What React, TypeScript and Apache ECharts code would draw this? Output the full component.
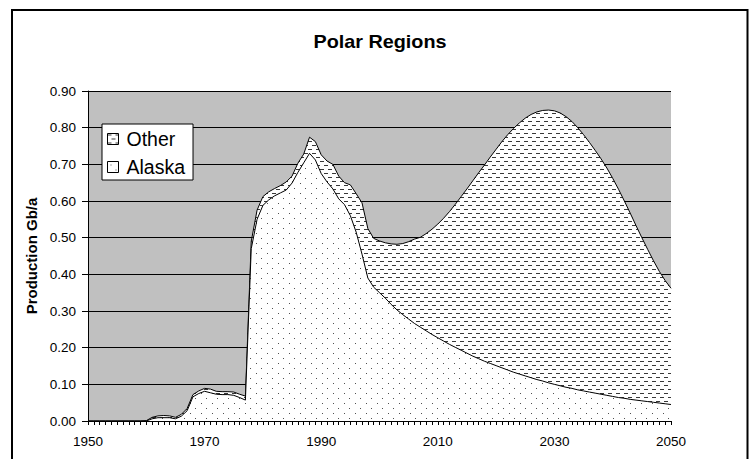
import React, { useEffect, useRef } from 'react';
import * as echarts from 'echarts';

const years = [
  '1950','1951','1952','1953','1954','1955','1956','1957','1958','1959',
  '1960','1961','1962','1963','1964','1965','1966','1967','1968','1969',
  '1970','1971','1972','1973','1974','1975','1976','1977','1978','1979',
  '1980','1981','1982','1983','1984','1985','1986','1987','1988','1989',
  '1990','1991','1992','1993','1994','1995','1996','1997','1998','1999',
  '2000','2001','2002','2003','2004','2005','2006','2007','2008','2009',
  '2010','2011','2012','2013','2014','2015','2016','2017','2018','2019',
  '2020','2021','2022','2023','2024','2025','2026','2027','2028','2029',
  '2030','2031','2032','2033','2034','2035','2036','2037','2038','2039',
  '2040','2041','2042','2043','2044','2045','2046','2047','2048','2049',
  '2050',
];

const xTickLabels = ['1950', '1970', '1990', '2010', '2030', '2050'];

const alaskaValues = [
  0, 0, 0, 0, 0, 0, 0, 0, 0, 0,
  0, 0.006, 0.009, 0.009, 0.009, 0.006, 0.013, 0.028, 0.066, 0.075,
  0.081, 0.077, 0.073, 0.072, 0.072, 0.070, 0.064, 0.057, 0.470, 0.550,
  0.588, 0.603, 0.614, 0.622, 0.630, 0.649, 0.678, 0.704, 0.730, 0.712,
  0.675, 0.652, 0.633, 0.606, 0.590, 0.560, 0.515, 0.455, 0.390, 0.365,
  0.350, 0.335, 0.318, 0.303, 0.290, 0.278, 0.266, 0.256, 0.246, 0.236,
  0.227, 0.218, 0.209, 0.201, 0.193, 0.185, 0.177, 0.170, 0.163, 0.157,
  0.151, 0.145, 0.139, 0.133, 0.128, 0.123, 0.118, 0.113, 0.109, 0.104,
  0.100, 0.096, 0.092, 0.089, 0.085, 0.082, 0.079, 0.076, 0.073, 0.070,
  0.067, 0.064, 0.062, 0.059, 0.057, 0.055, 0.053, 0.051, 0.049, 0.047,
  0.045,
];

const otherValues = [
  0, 0, 0, 0, 0, 0, 0, 0, 0, 0,
  0.001, 0.004, 0.005, 0.006, 0.005, 0.004, 0.005, 0.006, 0.006, 0.007,
  0.008, 0.010, 0.008, 0.008, 0.008, 0.009, 0.009, 0.011, 0.020, 0.025,
  0.024, 0.022, 0.020, 0.020, 0.022, 0.019, 0.025, 0.024, 0.044, 0.050,
  0.051, 0.057, 0.067, 0.062, 0.060, 0.084, 0.105, 0.140, 0.135, 0.133,
  0.141, 0.151, 0.165, 0.179, 0.194, 0.211, 0.230, 0.245, 0.265, 0.287,
  0.310, 0.335, 0.362, 0.390, 0.419, 0.448, 0.478, 0.507, 0.535, 0.563,
  0.590, 0.617, 0.642, 0.665, 0.685, 0.703, 0.718, 0.730, 0.738, 0.744,
  0.746, 0.744, 0.738, 0.728, 0.715, 0.699, 0.681, 0.662, 0.642, 0.620,
  0.595, 0.568, 0.538, 0.508, 0.476, 0.445, 0.415, 0.386, 0.359, 0.336,
  0.317,
];

const chartTitle = 'Polar Regions';
const yAxisTitle = 'Production Gb/a';

function makePattern(w: number, h: number, draw: (ctx: CanvasRenderingContext2D) => void) {
  const c = document.createElement('canvas');
  c.width = w;
  c.height = h;
  const ctx = c.getContext('2d') as CanvasRenderingContext2D;
  ctx.fillStyle = '#ffffff';
  ctx.fillRect(0, 0, w, h);
  draw(ctx);
  return { image: c.toDataURL(), repeat: 'repeat', imageWidth: w, imageHeight: h };
}

export default function App() {
  const ref = useRef<HTMLDivElement>(null);

  useEffect(() => {
    document.body.style.margin = '0';
    const chart = echarts.init(ref.current as HTMLDivElement, null, { renderer: 'svg' });
    const font = 'Liberation Sans';

    const dotFill = makePattern(11, 10, (ctx) => {
      ctx.fillStyle = '#505050';
      ctx.fillRect(3, 3, 1, 1);
      ctx.fillRect(8, 8, 1, 1);
    });
    const dashFill = makePattern(8, 8, (ctx) => {
      ctx.fillStyle = '#383838';
      ctx.fillRect(0, 1, 4, 1);
      ctx.fillRect(4, 5, 4, 1);
    });

    chart.setOption({
      animation: false,
      backgroundColor: '#ffffff',
      textStyle: { fontFamily: font },
      graphic: [
        {
          type: 'rect',
          z: -10,
          silent: true,
          shape: { x: 12, y: 10, width: 735.5, height: 460 },
          style: { fill: 'none', stroke: '#000000', lineWidth: 2 },
        },
        {
          type: 'text',
          x: 380,
          y: 41.5,
          scaleX: 1.1,
          silent: true,
          style: {
            text: chartTitle,
            font: 'bold 18px "Liberation Sans"',
            fill: '#000000',
            textAlign: 'center',
            textVerticalAlign: 'middle',
            align: 'center',
            verticalAlign: 'middle',
          },
        },
      ],
      grid: {
        left: 88,
        top: 91,
        width: 583,
        height: 330,
        show: true,
        backgroundColor: '#c0c0c0',
        borderWidth: 0,
        containLabel: false,
      },
      legend: {
        orient: 'vertical',
        left: 102,
        top: 124,
        padding: [5, 8, 3, 5],
        itemGap: 8,
        itemWidth: 11,
        itemHeight: 11,
        backgroundColor: '#ffffff',
        borderColor: '#000000',
        borderWidth: 1,
        borderRadius: 0,
        selectedMode: false,
        icon: 'rect',
        textStyle: { fontSize: 19.5, color: '#000000', fontFamily: font, padding: [0, 0, 0, 3] },
        data: [
          { name: 'Other', itemStyle: { color: dashFill, borderColor: '#000000', borderWidth: 1 } },
          { name: 'Alaska', itemStyle: { color: dotFill, borderColor: '#000000', borderWidth: 1 } },
        ],
      },
      xAxis: {
        type: 'category',
        data: years,
        boundaryGap: false,
        axisLine: { show: true, lineStyle: { color: '#000000', width: 1 } },
        axisTick: { show: true, interval: 0, length: 4, lineStyle: { color: '#000000' } },
        axisLabel: {
          interval: (_i: number, v: string) => xTickLabels.includes(v),
          color: '#000000',
          fontSize: 13.5,
          fontFamily: font,
          margin: 13,
        },
        splitLine: { show: false },
      },
      yAxis: {
        type: 'value',
        min: 0,
        max: 0.9,
        interval: 0.1,
        name: yAxisTitle,
        nameLocation: 'middle',
        nameGap: 48,
        nameRotate: 90,
        nameTextStyle: { fontSize: 15, fontWeight: 'bold', color: '#000000', fontFamily: font },
        axisLine: { show: true, lineStyle: { color: '#000000', width: 1 } },
        axisTick: { show: true, length: 6, lineStyle: { color: '#000000' } },
        axisLabel: {
          formatter: (v: number) => v.toFixed(2),
          color: '#000000',
          fontSize: 13.5,
          fontFamily: font,
          margin: 12,
        },
        splitLine: { show: true, lineStyle: { color: '#000000', width: 1 } },
      },
      series: [
        {
          name: 'Alaska',
          type: 'line',
          stack: 'total',
          data: alaskaValues,
          symbol: 'none',
          z: 3,
          lineStyle: { color: '#000000', width: 1 },
          itemStyle: { color: '#000000' },
          areaStyle: { color: dotFill, opacity: 1 },
          emphasis: { disabled: true },
        },
        {
          name: 'Other',
          type: 'line',
          stack: 'total',
          data: otherValues,
          symbol: 'none',
          z: 2,
          lineStyle: { color: '#000000', width: 1 },
          itemStyle: { color: '#000000' },
          areaStyle: { color: dashFill, opacity: 1 },
          emphasis: { disabled: true },
        },
      ],
    });

    return () => chart.dispose();
  }, []);

  return <div ref={ref} style={{ width: 752, height: 459 }} />;
}
